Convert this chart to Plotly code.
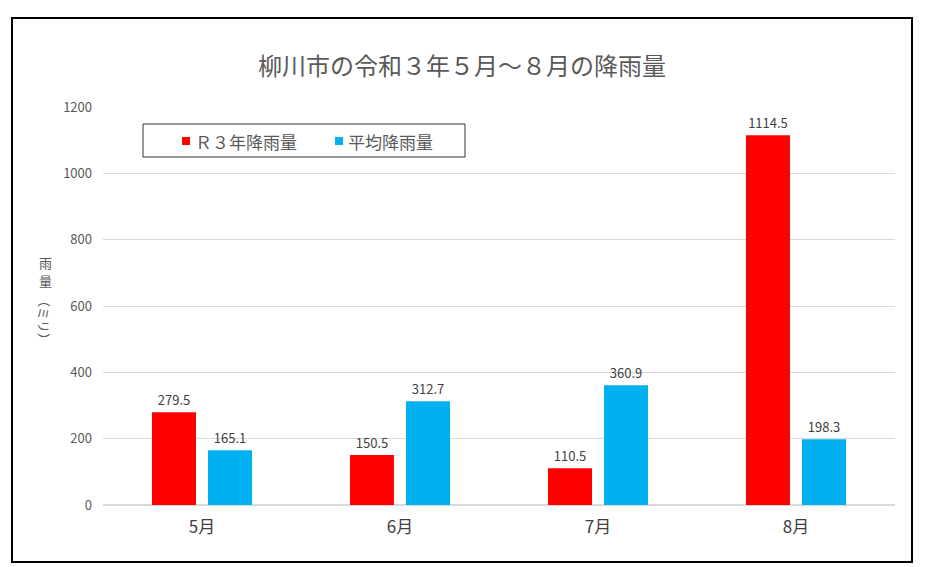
import plotly.graph_objects as go

months = ["5月", "6月", "7月", "8月"]
r3_rain = [279.5, 150.5, 110.5, 1114.5]
avg_rain = [165.1, 312.7, 360.9, 198.3]
y_ticks = [0, 200, 400, 600, 800, 1000, 1200]
series_names = ["Ｒ３年降雨量", "平均降雨量"]
series_colors = ["#FF0000", "#00B0F0"]

FONT = "Noto Sans CJK JP"
OFF = 8  # page body margin

W, H = 929, 567
# plot area in screenshot pixels: x 103..895, y 107..505
X0, X1, Y0, Y1 = 103, 895, 107, 505
L, T = X0 - OFF, Y0 - OFF
R = W - (X1 - OFF)
B = H - (Y1 - OFF)
pw, ph = X1 - X0, Y1 - Y0


def px(x):
    return (x - X0) / pw


def py(y):
    return (Y1 - y) / ph


fig = go.Figure()
for name, vals, col in zip(series_names, [r3_rain, avg_rain], series_colors):
    fig.add_trace(go.Bar(
        x=months, y=vals, name=name,
        marker=dict(color=col, line=dict(width=0)),
        texttemplate="%{y:.1f}", textposition="outside",
        textfont=dict(size=13, color="#404040", family=FONT),
        cliponaxis=False,
    ))

shapes = [dict(type="rect", xref="paper", yref="paper",
               x0=px(12), x1=px(912), y0=py(562), y1=py(18),
               line=dict(color="#000000", width=2), fillcolor="rgba(0,0,0,0)",
               layer="below"),
          dict(type="rect", xref="paper", yref="paper",
               x0=px(143), x1=px(465), y0=py(157), y1=py(124),
               line=dict(color="#333333", width=1), fillcolor="white")]
annotations = [
    dict(text="雨", xref="paper", yref="paper", x=px(45), y=py(262),
         showarrow=False, font=dict(size=13, color="#595959", family=FONT),
         xanchor="center", yanchor="middle", borderpad=0),
    dict(text="量", xref="paper", yref="paper", x=px(45), y=py(280),
         showarrow=False, font=dict(size=13, color="#595959", family=FONT),
         xanchor="center", yanchor="middle", borderpad=0),
    dict(text="（ミリ）", xref="paper", yref="paper", x=px(45), y=py(320),
         showarrow=False, textangle=90, font=dict(size=13, color="#595959", family=FONT),
         xanchor="center", yanchor="middle", borderpad=0),
]
for (sx, tx), name, col in zip([(186, 193), (339, 346)], series_names, series_colors):
    shapes.append(dict(type="rect", xref="paper", yref="paper",
                       x0=px(sx - 4), x1=px(sx + 4), y0=py(145), y1=py(137),
                       line=dict(width=0), fillcolor=col))
    annotations.append(dict(text=name, xref="paper", yref="paper", x=px(tx), y=py(141),
                            showarrow=False, xanchor="left", yanchor="middle",
                            font=dict(size=17, color="#595959", family=FONT)))

fig.update_layout(
    width=W, height=H,
    margin=dict(l=L, r=R, t=T, b=B),
    paper_bgcolor="white", plot_bgcolor="white",
    font=dict(family=FONT, color="#595959"),
    barmode="group", bargap=0.434, bargroupgap=0.214,
    title=dict(text="柳川市の令和３年５月～８月の降雨量", x=px(462), xref="paper", xanchor="center",
               y=1 - (67 - OFF) / H, yanchor="middle",
               font=dict(size=24, color="#595959", family=FONT)),
    showlegend=False,
    xaxis=dict(showgrid=False, showline=False, ticks="", ticklabelstandoff=10,
               tickfont=dict(size=17, color="#404040", family=FONT)),
    yaxis=dict(range=[0, 1200], tickvals=y_ticks, showgrid=True, gridcolor="#d9d9d9",
               zeroline=True, zerolinecolor="#d9d9d9", zerolinewidth=2,
               showline=False, ticks="", ticklabelstandoff=10,
               tickfont=dict(size=13, color="#595959", family=FONT)),
    shapes=shapes,
    annotations=annotations,
)

fig.write_html("out.html")
